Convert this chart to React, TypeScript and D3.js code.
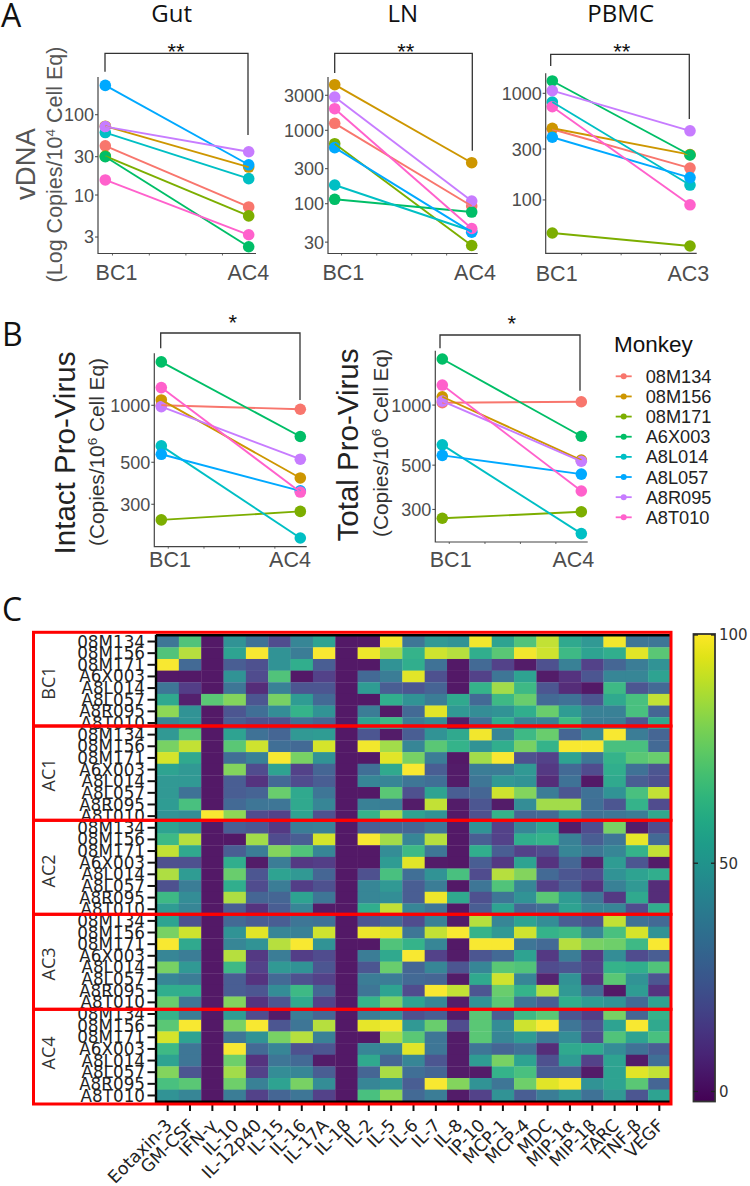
import React from "react";
import * as d3 from "d3";

// ---------- monkeys ----------
const monkeys = ["08M134", "08M156", "08M171", "A6X003", "A8L014", "A8L057", "A8R095", "A8T010"];
const monkeyColors = ["#F8766D", "#CD9600", "#7CAE00", "#00BE67", "#00BFC4", "#00A9FF", "#C77CFF", "#FF61CC"];

// ---------- paired values, monkey order ----------
const gutBC1 = [41, 72, 30.6, 30, 60, 232, 71, 15.4];
const gutAC4 = [7.1, 22.3, 5.5, 2.27, 16, 23.8, 34.6, 3.2];
const lnBC1 = [1245, 4180, 657, 115, 180, 580, 2840, 1970];
const lnAC4 = [93, 362, 27, 77, 42.5, 41, 109, 46];
const pbmcBC1 = [460, 470, 49, 1305, 829, 387, 1058, 748];
const pbmcAC3 = [199, 266, 37, 264, 138, 162, 445, 90];
const intactBC1 = [1000, 1067, 248, 1695, 610, 551, 984, 1240];
const intactAC4 = [953, 413, 275, 684, 199, 353, 519, 348];
const totalBC1 = [1028, 1101, 271, 1702, 632, 560, 1047, 1260];
const totalAC4 = [1039, 530, 292, 698, 227, 451, 523, 371];

const ticksA1 = [3, 10, 30, 100];
const ticksA2 = [30, 100, 300, 1000, 3000];
const ticksA3 = [100, 300, 1000];
const ticksB = [300, 500, 1000];
const minorMost = [0.05, 0.307, 0.562, 0.817];
const minorPbmc = [0.213, 0.5, 0.785];

// ---------- heatmap ----------
const cytokines = ["Eotaxin-3", "GM-CSF", "IFN-γ", "IL-10", "IL-12p40", "IL-15", "IL-16", "IL-17A", "IL-1β", "IL-2", "IL-5", "IL-6", "IL-7", "IL-8", "IP-10", "MCP-1", "MCP-4", "MDC", "MIP-1α", "MIP-1β", "TARC", "TNF-β", "VEGF"];
const groups = ["BC1", "AC1", "AC2", "AC3", "AC4"];
const heatBC1 = [
  [35,70,2,48,33,18,42,55,2,2,98,35,50,48,98,55,70,90,58,50,98,35,35],
  [70,88,2,55,99,48,38,99,2,97,85,62,92,88,60,72,98,92,65,55,60,95,72],
  [99,30,2,25,20,48,60,25,2,2,48,60,33,2,30,15,3,20,40,15,28,38,48],
  [2,2,2,48,18,70,2,15,2,30,38,95,20,2,15,35,55,3,10,22,42,42,55],
  [35,14,2,35,8,40,22,22,2,52,25,22,27,2,62,85,65,22,8,2,65,22,30],
  [58,4,72,80,22,78,52,30,2,2,60,48,38,58,30,65,75,30,33,22,58,68,90],
  [82,48,2,22,32,45,62,48,2,38,2,30,95,50,45,48,60,75,52,40,40,68,28],
  [42,48,2,25,20,20,33,28,2,55,65,38,44,3,32,60,40,40,66,38,38,22,58],
];
const heatAC1 = [
  [50,72,2,55,33,28,50,52,2,22,3,25,48,58,98,42,65,75,28,42,99,38,28],
  [78,90,2,72,92,32,30,93,2,98,85,42,72,62,48,60,78,62,99,99,68,68,30],
  [93,58,2,32,40,99,78,48,2,2,95,78,38,2,85,99,20,15,55,35,62,72,75],
  [55,50,2,80,18,55,15,28,2,32,58,99,25,3,38,38,50,12,30,18,60,33,22],
  [50,50,2,25,10,30,18,25,2,42,42,35,32,3,35,50,48,8,33,2,58,25,20],
  [50,33,2,25,27,75,58,35,2,2,72,20,55,25,28,92,80,38,22,33,48,68,90],
  [52,68,2,30,35,35,58,42,2,40,38,3,90,3,22,3,45,85,85,32,22,62,18],
  [48,45,99,82,18,15,55,20,2,62,85,55,48,2,20,62,28,30,50,33,35,38,58],
];
const heatAC2 = [
  [55,48,2,25,22,12,38,40,2,25,28,28,35,2,48,15,42,55,3,18,78,3,18],
  [65,88,2,2,85,18,25,93,2,99,85,42,88,2,25,15,60,62,40,25,35,96,30],
  [90,58,2,25,38,80,70,42,2,2,45,65,35,2,60,25,15,18,42,35,42,62,90],
  [20,20,2,60,3,38,12,14,2,2,52,95,3,2,25,12,55,10,28,5,52,22,3],
  [87,52,2,75,22,55,50,28,2,20,68,32,48,68,18,88,80,30,22,18,48,55,60],
  [20,38,2,60,18,38,14,20,2,42,50,25,38,2,35,70,42,15,25,10,40,50,8],
  [65,45,2,87,28,28,55,35,2,42,46,25,97,58,20,35,48,72,52,35,12,58,8],
  [52,42,2,25,10,25,42,3,2,60,90,42,35,2,25,55,28,32,55,42,42,18,60],
];
const heatAC3 = [
  [55,20,2,30,25,25,35,33,2,22,30,18,40,3,88,42,55,45,25,20,90,33,30],
  [78,92,2,48,95,42,40,92,2,97,95,35,90,99,62,50,92,62,65,42,68,93,48],
  [99,58,2,42,48,88,99,48,2,2,70,62,42,2,99,99,35,30,88,78,76,65,99],
  [42,38,2,88,12,38,14,18,2,38,58,99,15,3,22,30,55,12,38,12,45,18,25],
  [78,50,2,65,15,50,48,22,2,22,75,28,42,22,42,72,70,18,22,15,62,60,70],
  [42,38,2,25,10,30,20,15,2,38,38,30,28,3,58,92,42,5,48,10,72,48,22],
  [60,60,2,25,22,45,65,28,2,35,55,18,99,90,22,75,62,88,50,30,2,52,10],
  [75,35,2,80,10,22,58,15,2,62,78,55,42,3,48,72,33,25,60,52,48,30,55],
];
const heatAC4 = [
  [62,38,2,52,18,3,38,28,2,38,45,20,25,3,72,25,65,72,22,14,78,28,62],
  [72,99,2,78,99,22,35,88,2,96,98,50,75,18,72,45,92,99,35,22,55,99,58],
  [93,55,2,35,48,78,88,40,2,2,86,72,35,3,72,42,52,35,45,18,70,55,68],
  [65,35,2,99,30,42,20,22,2,42,42,95,35,3,35,28,33,8,58,58,45,33,25],
  [55,35,2,76,10,35,30,3,2,58,28,42,22,3,52,78,55,20,52,15,55,3,32],
  [80,22,2,85,15,45,42,25,2,28,86,32,28,3,3,62,68,25,25,3,55,95,90],
  [68,72,2,76,40,55,78,45,2,42,48,25,99,80,48,35,76,95,99,48,55,72,28],
  [48,42,2,38,15,28,35,15,2,68,82,30,38,3,15,48,25,38,48,33,50,22,55],
];
const heatGroups = [heatBC1, heatAC1, heatAC2, heatAC3, heatAC4];
const colorbarTicks = [0, 50, 100];

// ---------- layout ----------
const SANS = "'Liberation Sans', Arial, sans-serif";
const DEJAVU = "'DejaVu Sans', sans-serif";
const OPEN = "'Open Sans', sans-serif";
const GREY = "#4d4d4d";

type PanelCfg = {
  left: number[]; right: number[]; labels: [string, string]; ticks: number[];
  domain: [number, number]; yRange: [number, number]; axisX: number; axisEnd: number;
  x0: number; x1: number; minor: number[]; labelX: [number, number]; labelBase: number;
  bracket: { x0: number; y0: number; top: number; x1: number; y1: number; sx: number; sy: number; s: string };
};

const panels: PanelCfg[] = [
  { left: gutBC1, right: gutAC4, labels: ["BC1", "AC4"], ticks: ticksA1, domain: [1.87, 295], yRange: [253.5, 77], axisX: 98, axisEnd: 256, x0: 105.3, x1: 248.7, minor: minorMost, labelX: [116.5, 248.3], labelBase: 280,
    bracket: { x0: 105, y0: 71.7, top: 53.3, x1: 248, y1: 135, sx: 176, sy: 59, s: "**" } },
  { left: lnBC1, right: lnAC4, labels: ["BC1", "AC4"], ticks: ticksA2, domain: [21, 5320], yRange: [253.5, 77], axisX: 328, axisEnd: 477.7, x0: 334.7, x1: 471.7, minor: minorMost, labelX: [343.3, 475], labelBase: 280,
    bracket: { x0: 334.7, y0: 73, top: 53.3, x1: 472.3, y1: 150.7, sx: 405.7, sy: 59, s: "**" } },
  { left: pbmcBC1, right: pbmcAC3, labels: ["BC1", "AC3"], ticks: ticksA3, domain: [31.6, 1540], yRange: [253.3, 73.3], axisX: 545.7, axisEnd: 696.7, x0: 552.3, x1: 690, minor: minorPbmc, labelX: [556.7, 688.3], labelBase: 280.5,
    bracket: { x0: 550.7, y0: 66, top: 54.3, x1: 689.3, y1: 119, sx: 621.7, sy: 59, s: "**" } },
  { left: intactBC1, right: intactAC4, labels: ["BC1", "AC4"], ticks: ticksB, domain: [179, 1882], yRange: [546.7, 353.3], axisX: 154.3, axisEnd: 306.7, x0: 161.3, x1: 300.3, minor: minorMost, labelX: [170, 290], labelBase: 566.7,
    bracket: { x0: 160.7, y0: 348.3, top: 333, x1: 300, y1: 400, sx: 232.7, sy: 330, s: "*" } },
  { left: totalBC1, right: totalAC4, labels: ["BC1", "AC4"], ticks: ticksB, domain: [206, 1873], yRange: [542, 350.7], axisX: 435.3, axisEnd: 587.7, x0: 442.3, x1: 581.3, minor: minorMost, labelX: [450.7, 573.3], labelBase: 566.7,
    bracket: { x0: 440, y0: 348.3, top: 335, x1: 580, y1: 390.7, sx: 511.7, sy: 331, s: "*" } },
];

function Panel({ cfg }: { cfg: PanelCfg }) {
  const y = d3.scaleLog().domain(cfg.domain).range(cfg.yRange);
  const x = d3.scaleLinear().domain([0, 1]).range([cfg.x0, cfg.x1]);
  const line = d3.line<number>().x((_, i) => x(i)).y((d) => y(d));
  const b = cfg.bracket;
  return (
    <g>
      {monkeys.map((m, i) => (
        <g key={m} fill={monkeyColors[i]}>
          <circle cx={x(0)} cy={y(cfg.left[i])} r={5.8} />
          <circle cx={x(1)} cy={y(cfg.right[i])} r={5.8} />
        </g>
      ))}
      {monkeys.map((m, i) => (
        <path key={m} d={line([cfg.left[i], cfg.right[i]]) || ""} fill="none" stroke={monkeyColors[i]} strokeWidth={1.9} />
      ))}
      <path d={`M${cfg.axisX},${cfg.yRange[1]}V${cfg.yRange[0]}H${cfg.axisEnd}`} fill="none" stroke="#444" strokeWidth={1.2} />
      {cfg.ticks.map((t) => (
        <g key={t}>
          <line x1={cfg.axisX - 3} x2={cfg.axisX} y1={y(t)} y2={y(t)} stroke="#444" strokeWidth={1} />
          <text x={cfg.axisX - 4} y={y(t)} dy="0.36em" textAnchor="end" fontFamily={SANS} fontSize={18} fill={GREY}>{t}</text>
        </g>
      ))}
      {cfg.minor.map((t) => (
        <line key={t} x1={x(t)} x2={x(t)} y1={cfg.yRange[0]} y2={cfg.yRange[0] + 2} stroke="#444" strokeWidth={0.8} />
      ))}
      {cfg.labels.map((l, i) => (
        <text key={l} x={cfg.labelX[i]} y={cfg.labelBase} textAnchor="middle" fontFamily={SANS} fontSize={21.5} fill={GREY}>{l}</text>
      ))}
      <path d={`M${b.x0},${b.y0}V${b.top}H${b.x1}V${b.y1}`} fill="none" stroke="#333" strokeWidth={1.3} />
      <text x={b.sx} y={b.sy} textAnchor="middle" fontFamily={SANS} fontSize={22} fill="#111">{b.s}</text>
    </g>
  );
}

function RotLabel({ x, y, size, fill, family, children }: any) {
  return (
    <text transform={`translate(${x},${y}) rotate(-90)`} textAnchor="middle" fontFamily={family || SANS} fontSize={size} fill={fill}>{children}</text>
  );
}

// heatmap geometry
const hmLeft = 156.5;
const hmRight = 670.5;
const hmTop = 635.7;
const hmBottom = 1101.3;
const groupEdges = [632.3, 726, 820.3, 914.3, 1009.3, 1104];
const groupLabelY = [683, 775, 871, 964, 1053];
const boxLeft = 33.5;
const boxRight = 671;

function soften(v: number) {
  return d3.interpolateRgb(d3.interpolateViridis(v / 100), "#ffffff")(0.07);
}

function Heatmap() {
  const rows = d3.range(40);
  const x = d3.scaleBand<string>().domain(cytokines).range([hmLeft, hmRight]);
  const y = d3.scaleBand<number>().domain(rows).range([hmTop, hmBottom]);
  const flat = heatGroups.flat();
  return (
    <g>
      {flat.map((row, r) =>
        row.map((v, c) => (
          <rect key={`${r}-${c}`} x={x(cytokines[c])} y={y(r)} width={x.bandwidth() + 0.3} height={y.bandwidth() + 0.3} fill={soften(v)} />
        ))
      )}
      <path d={`M${hmLeft - 0.5},${hmTop - 1}V${hmBottom + 0.5}H${hmRight}M${hmLeft - 0.5},${hmTop - 0.5}H${hmRight}`} fill="none" stroke="#000" strokeWidth={2.4} />
      {rows.map((r) => (
        <g key={r}>
          <line x1={147.5} x2={hmLeft} y1={y(r)! + y.bandwidth() / 2} y2={y(r)! + y.bandwidth() / 2} stroke="#111" strokeWidth={2} />
          <text x={145} y={y(r)! + y.bandwidth() / 2} dy="0.36em" textAnchor="end" fontFamily={DEJAVU} fontSize={16.8} fill="#222">{monkeys[r % 8]}</text>
        </g>
      ))}
      {cytokines.map((c) => {
        const cx = x(c)! + x.bandwidth() / 2;
        return (
          <g key={c}>
            <line x1={cx} x2={cx} y1={1104} y2={1111} stroke="#111" strokeWidth={2} />
            <text transform={`translate(${cx + 1},${1122}) rotate(-45)`} textAnchor="end" dy="0.36em" fontFamily={DEJAVU} fontSize={17.3} fill="#222">{c}</text>
          </g>
        );
      })}
      {groups.map((g, i) => (
        <g key={g}>
          <rect x={boxLeft} y={groupEdges[i]} width={boxRight - boxLeft} height={groupEdges[i + 1] - groupEdges[i]} fill="none" stroke="#ff0000" strokeWidth={3} />
          <RotLabel x={54.5} y={groupLabelY[i]} size={18} fill="#333" family={OPEN}>{g}</RotLabel>
        </g>
      ))}
    </g>
  );
}

function Colorbar() {
  const top = 634;
  const bottom = 1101.5;
  const y = d3.scaleLinear().domain([-2.2, 100]).range([bottom, 635]);
  const stops = d3.range(0, 1.0001, 0.05);
  return (
    <g>
      <defs>
        <linearGradient id="viridisBar" x1="0" y1="1" x2="0" y2="0">
          {stops.map((s) => (
            <stop key={s} offset={s} stopColor={d3.interpolateViridis(s)} />
          ))}
        </linearGradient>
      </defs>
      <rect x={693.5} y={top} width={21.5} height={bottom - top} fill="url(#viridisBar)" stroke="#333" strokeWidth={1.8} />
      {colorbarTicks.map((t) => (
        <g key={t}>
          <line x1={693.5} x2={698} y1={y(t)} y2={y(t)} stroke="#222" strokeWidth={1.3} />
          <line x1={711} x2={715} y1={y(t)} y2={y(t)} stroke="#222" strokeWidth={1.3} />
          <text x={719} y={y(t)} dy="0.36em" fontFamily={DEJAVU} fontSize={15} fill="#333">{t}</text>
        </g>
      ))}
    </g>
  );
}

const legendY = d3.scaleLinear().domain([0, 7]).range([376.3, 517.3]);

export default function App() {
  return (
    <svg width={750} height={1186} style={{ position: "absolute", left: 0, top: 0, display: "block", background: "#fff" }}>
      <text x={1} y={27} fontFamily={OPEN} fontSize={32} fill="#111">A</text>
      <text x={2} y={345.5} fontFamily={OPEN} fontSize={32} fill="#111">B</text>
      <text x={2} y={621} fontFamily={OPEN} fontSize={32} fill="#111">C</text>

      <text x={171.7} y={22} textAnchor="middle" fontFamily={OPEN} fontSize={24} fill="#111">Gut</text>
      <text x={402.7} y={22} textAnchor="middle" fontFamily={OPEN} fontSize={24} fill="#111">LN</text>
      <text x={620.7} y={22} textAnchor="middle" fontFamily={OPEN} fontSize={24} fill="#111">PBMC</text>

      <RotLabel x={35} y={164} size={27.5} fill="#555">vDNA</RotLabel>
      <RotLabel x={62} y={164.5} size={21.5} fill="#555">(Log Copies/10<tspan fontSize={13.5} dy={-7}>4</tspan><tspan dy={7}> Cell Eq)</tspan></RotLabel>

      <RotLabel x={75} y={453} size={29.5} fill="#222">Intact Pro-Virus</RotLabel>
      <RotLabel x={104} y={452} size={20.8} fill="#333">(Copies/10<tspan fontSize={13.5} dy={-7}>6</tspan><tspan dy={7}> Cell Eq)</tspan></RotLabel>
      <RotLabel x={358} y={445} size={29.5} fill="#222">Total Pro-Virus</RotLabel>
      <RotLabel x={388} y={443} size={20.8} fill="#333">(Copies/10<tspan fontSize={13.5} dy={-7}>6</tspan><tspan dy={7}> Cell Eq)</tspan></RotLabel>

      {panels.map((p, i) => <Panel key={i} cfg={p} />)}

      <text x={614} y={351.7} fontFamily={SANS} fontSize={22.5} fill="#111">Monkey</text>
      {monkeys.map((m, i) => (
        <g key={m}>
          <line x1={615.7} x2={631.7} y1={legendY(i)} y2={legendY(i)} stroke={monkeyColors[i]} strokeWidth={1.8} />
          <circle cx={623.7} cy={legendY(i)} r={3} fill={monkeyColors[i]} />
          <text x={645.7} y={legendY(i)} dy="0.36em" fontFamily={SANS} fontSize={18.2} fill="#222">{m}</text>
        </g>
      ))}

      <Heatmap />
      <Colorbar />
    </svg>
  );
}
